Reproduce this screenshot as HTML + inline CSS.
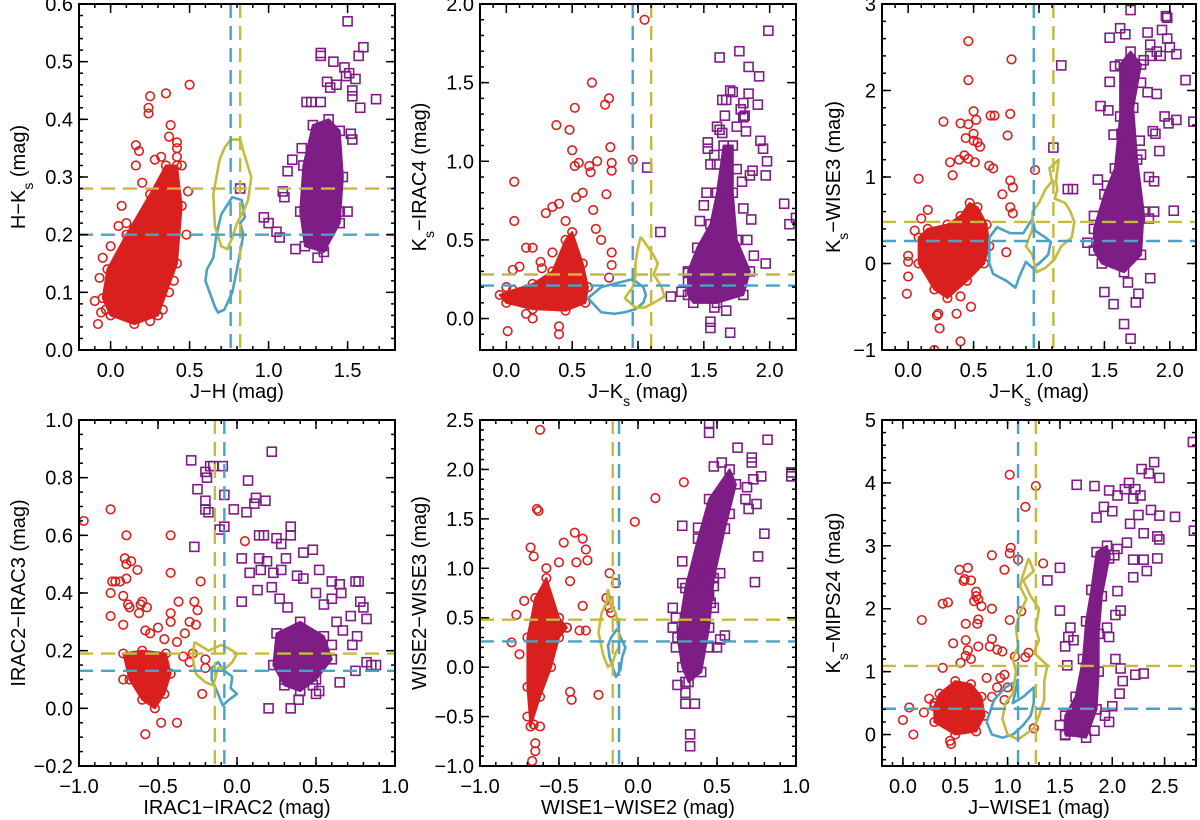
<!DOCTYPE html>
<html><head><meta charset="utf-8"><style>
html,body{margin:0;padding:0;background:#fff;}
svg{display:block;font-family:"Liberation Sans",sans-serif;}
</style></head><body>
<svg id="fig" width="1200" height="820" viewBox="0 0 1200 820" xmlns="http://www.w3.org/2000/svg"></svg>
<script>
// ---------- Panel 1 data ----------
const p1Red=[[0.5,0.46],[0.25,0.44],[0.24,0.42],[0.24,0.41],[0.35,0.445],[0.38,0.39],[0.37,0.37],[0.42,0.36],[0.42,0.35],[0.16,0.355],[0.18,0.345],[0.16,0.32],[0.28,0.33],[0.32,0.335],[0.42,0.335],[0.45,0.32],[0.2,0.29],[0.49,0.275],[0.07,0.25],[0.1,0.22],[0.05,0.215],[0.0,0.18],[-0.05,0.16],[-0.07,0.125],[-0.1,0.085],[-0.08,0.045],[-0.06,0.065],[0.04,0.08],[0.25,0.05],[0.48,0.2],[0.4,0.12],[0.37,0.1],[0.33,0.07],[-0.03,0.07],[0.02,0.11]];
const p1RedCore=[[0.0,0.06],[0.15,0.045],[0.3,0.06],[0.42,0.15],[0.45,0.25],[0.42,0.32],[0.35,0.32],[0.25,0.27],[0.1,0.2],[-0.02,0.14],[-0.05,0.09]];
const p1Pur=[[1.5,0.57],[1.6,0.525],[1.57,0.51],[1.33,0.51],[1.33,0.515],[1.41,0.5],[1.48,0.49],[1.51,0.48],[1.49,0.475],[1.55,0.47],[1.43,0.46],[1.37,0.465],[1.39,0.455],[1.53,0.45],[1.68,0.435],[1.58,0.42],[1.53,0.44],[1.24,0.43],[1.27,0.43],[1.33,0.43],[1.52,0.375],[1.53,0.365],[1.21,0.35],[1.15,0.33],[1.12,0.31],[1.09,0.275],[1.1,0.265],[0.97,0.23],[1.0,0.22],[1.05,0.205],[1.07,0.195],[1.17,0.175],[1.31,0.16],[1.34,0.18],[1.45,0.24],[1.5,0.24],[0.82,0.28]];
const p1PurCore=[[1.23,0.18],[1.35,0.17],[1.45,0.22],[1.47,0.3],[1.45,0.38],[1.38,0.4],[1.28,0.39],[1.22,0.32],[1.2,0.24]];
const p1Blue=[[0.7,0.235],[0.77,0.265],[0.83,0.26],[0.85,0.23],[0.82,0.22],[0.84,0.2],[0.82,0.17],[0.8,0.14],[0.77,0.1],[0.72,0.07],[0.68,0.065],[0.66,0.075],[0.6,0.12],[0.61,0.14],[0.65,0.16],[0.67,0.2],[0.7,0.235]];
const p1Yel=[[0.72,0.35],[0.76,0.365],[0.82,0.365],[0.84,0.345],[0.89,0.3],[0.87,0.26],[0.84,0.24],[0.8,0.22],[0.77,0.195],[0.74,0.175],[0.7,0.18],[0.66,0.215],[0.65,0.27],[0.67,0.3],[0.69,0.33],[0.72,0.35]];
const p1VLines=[0.76,0.82], p1HLines=[0.20,0.28];
// ---------- Panel 2 data ----------
const p2Red=[[1.05,1.9],[0.65,1.5],[0.78,1.4],[0.75,1.36],[0.52,1.34],[0.38,1.23],[0.48,1.2],[0.79,1.09],[0.5,1.07],[0.52,0.97],[0.55,0.99],[0.63,0.97],[0.69,1.0],[0.8,0.99],[0.8,0.94],[0.64,0.93],[0.96,1.01],[0.06,0.87],[0.06,0.62],[0.58,0.8],[0.53,0.77],[0.76,0.79],[0.35,0.71],[0.4,0.73],[0.3,0.67],[0.66,0.69],[0.68,0.57],[0.72,0.5],[0.8,0.42],[0.8,0.34],[0.78,0.26],[0.15,0.45],[0.2,0.45],[0.1,0.33],[0.05,0.31],[0.26,0.36],[0.01,-0.08],[0.2,0.0],[0.15,0.03],[0.4,-0.1],[0.4,-0.05],[0.27,0.32],[0.35,0.42],[0.45,0.62],[0.0,0.2]];
const p2RedCore=[[0.0,0.1],[0.2,0.06],[0.45,0.05],[0.6,0.1],[0.62,0.2],[0.58,0.35],[0.5,0.55],[0.45,0.5],[0.35,0.3],[0.2,0.22],[0.05,0.18],[-0.05,0.15]];
const p2Pur=[[1.99,1.83],[1.77,1.7],[1.62,1.66],[1.84,1.6],[1.92,1.54],[1.84,1.43],[1.7,1.45],[1.72,1.44],[1.67,1.39],[1.64,1.39],[1.8,1.37],[1.91,1.36],[1.78,1.33],[1.8,1.28],[1.81,1.29],[1.66,1.29],[1.75,1.22],[1.6,1.22],[1.62,1.2],[1.64,1.18],[1.82,1.19],[1.53,1.12],[1.53,1.08],[1.58,1.04],[1.93,1.13],[1.95,1.08],[1.98,1.0],[1.97,0.91],[1.87,0.94],[1.85,0.91],[1.75,0.95],[1.79,0.87],[1.55,0.98],[1.6,0.98],[1.07,0.96],[1.17,0.55],[1.25,0.14],[1.33,0.17],[1.38,0.24],[1.38,0.29],[1.47,0.62],[1.5,0.72],[1.52,0.8],[2.11,0.73],[2.15,0.6],[2.2,0.64],[1.97,0.35],[1.88,0.4],[1.83,0.5],[1.86,0.63],[1.8,0.7],[1.55,-0.02],[1.55,-0.06],[1.67,0.05],[1.7,-0.09],[1.58,0.07]];
const p2PurCore=[[1.42,0.1],[1.6,0.1],[1.8,0.15],[1.85,0.3],[1.75,0.5],[1.72,0.8],[1.72,1.1],[1.65,1.1],[1.6,0.8],[1.55,0.6],[1.45,0.45],[1.38,0.3],[1.38,0.15]];
const p2Blue=[[0.62,0.13],[0.72,0.2],[0.86,0.23],[0.96,0.25],[1.04,0.2],[1.06,0.15],[1.04,0.1],[0.98,0.06],[0.9,0.04],[0.82,0.03],[0.72,0.04],[0.62,0.13]];
const p2Yel=[[1.02,0.52],[1.08,0.45],[1.12,0.4],[1.15,0.35],[1.12,0.28],[1.18,0.2],[1.2,0.14],[1.12,0.1],[1.05,0.07],[0.98,0.07],[0.9,0.13],[0.96,0.2],[0.98,0.27],[0.98,0.35],[1.0,0.45],[1.02,0.52]];
const p2VLines=[0.96,1.10], p2HLines=[0.21,0.28];
// ---------- Panel 3 data ----------
const p3Red=[[0.46,2.57],[0.79,2.36],[0.46,2.12],[0.5,1.76],[0.52,1.66],[0.27,1.64],[0.4,1.62],[0.46,1.61],[0.63,1.71],[0.66,1.71],[0.78,1.73],[0.76,1.48],[0.44,1.45],[0.5,1.5],[0.5,1.42],[0.53,1.4],[0.55,1.35],[0.43,1.25],[0.46,1.21],[0.32,1.17],[0.39,1.2],[0.51,1.17],[0.62,1.13],[0.65,1.1],[0.97,1.08],[0.08,0.98],[0.34,1.02],[0.78,0.96],[0.8,0.88],[0.72,0.8],[0.78,0.65],[0.8,0.58],[0.15,0.62],[0.1,0.52],[0.05,0.38],[0.0,0.09],[0.0,0.02],[0.0,-0.15],[-0.01,-0.35],[0.22,-0.6],[0.23,-0.58],[0.24,-0.75],[0.37,-0.58],[0.4,-0.38],[0.48,-0.5],[0.2,-1.0],[0.4,-0.9],[0.75,0.13]];
const p3RedCore=[[0.08,0.0],[0.2,-0.3],[0.3,-0.4],[0.45,-0.2],[0.58,0.0],[0.62,0.2],[0.6,0.45],[0.53,0.65],[0.47,0.7],[0.4,0.55],[0.3,0.45],[0.15,0.4],[0.08,0.3]];
const p3Pur=[[1.7,2.93],[1.62,2.72],[1.66,2.65],[1.54,2.61],[1.83,2.67],[1.94,2.7],[1.98,2.84],[1.97,2.86],[1.85,2.53],[1.98,2.6],[2.0,2.5],[2.05,2.42],[1.9,2.45],[1.93,2.4],[1.85,2.4],[1.8,2.35],[1.58,2.28],[1.17,2.29],[2.12,2.12],[1.54,2.1],[1.66,2.09],[1.78,2.09],[1.83,1.98],[1.9,1.96],[1.47,1.82],[1.53,1.77],[1.68,1.75],[1.96,1.7],[2.05,1.66],[2.18,1.64],[1.99,1.62],[1.87,1.53],[1.89,1.5],[1.92,1.3],[1.57,1.49],[1.63,1.5],[1.77,1.42],[1.78,1.26],[1.72,1.05],[1.84,1.0],[1.88,0.95],[1.45,0.97],[1.52,0.9],[1.11,1.34],[1.22,0.86],[1.26,0.86],[1.37,0.24],[1.42,0.55],[1.84,0.52],[1.88,0.6],[2.03,0.61],[1.5,-0.33],[1.57,-0.47],[1.68,-0.22],[1.76,-0.35],[1.65,-0.7],[1.7,-0.87],[1.74,-0.45],[1.85,-0.17]];
const p3PurCore=[[1.48,0.0],[1.65,-0.1],[1.78,0.1],[1.8,0.6],[1.75,1.2],[1.72,1.8],[1.78,2.3],[1.7,2.45],[1.62,2.3],[1.62,1.7],[1.58,1.1],[1.5,0.8],[1.42,0.4],[1.42,0.15]];
const p3Blue=[[0.62,0.3],[0.68,0.42],[0.78,0.35],[0.88,0.35],[0.95,0.52],[0.97,0.38],[1.05,0.3],[1.09,0.25],[1.07,0.1],[1.0,0.0],[0.95,-0.05],[0.9,0.02],[0.85,-0.15],[0.82,-0.28],[0.75,-0.2],[0.65,-0.12],[0.62,0.0],[0.62,0.15],[0.62,0.3]];
const p3Yel=[[1.0,0.7],[1.05,0.86],[1.1,0.95],[1.08,1.1],[1.15,1.2],[1.13,0.95],[1.14,0.85],[1.12,0.75],[1.2,0.7],[1.24,0.6],[1.27,0.48],[1.25,0.3],[1.17,0.2],[1.12,0.05],[1.05,-0.05],[0.98,-0.1],[0.95,0.1],[0.9,0.2],[0.95,0.4],[0.95,0.6],[1.0,0.7]];
const p3VLines=[0.96,1.11], p3HLines=[0.26,0.48];
// ---------- Panel 4 data ----------
const p4Red=[[-0.97,0.65],[-0.8,0.69],[-0.7,0.6],[-0.42,0.6],[-0.71,0.52],[-0.7,0.5],[-0.67,0.51],[-0.63,0.48],[-0.42,0.47],[-0.79,0.44],[-0.77,0.44],[-0.74,0.44],[-0.7,0.45],[-0.8,0.4],[-0.72,0.39],[-0.69,0.36],[-0.68,0.35],[-0.61,0.36],[-0.6,0.37],[-0.57,0.35],[-0.37,0.37],[-0.27,0.37],[-0.23,0.44],[-0.8,0.32],[-0.72,0.29],[-0.62,0.33],[-0.58,0.27],[-0.5,0.28],[-0.42,0.33],[-0.42,0.3],[-0.3,0.3],[-0.26,0.29],[-0.25,0.34],[-0.33,0.26],[-0.38,0.23],[-0.46,0.24],[-0.55,0.26],[-0.2,0.14],[-0.22,0.05],[-0.2,0.17],[-0.28,0.19],[-0.3,0.16],[0.05,0.58],[-0.58,-0.09],[-0.48,-0.05],[-0.38,-0.05],[-0.72,0.1],[-0.34,0.18]];
const p4RedCore=[[-0.72,0.19],[-0.6,0.2],[-0.45,0.19],[-0.42,0.12],[-0.46,0.05],[-0.52,0.0],[-0.6,0.03],[-0.68,0.1]];
const p4Pur=[[0.22,0.89],[-0.29,0.86],[-0.17,0.84],[-0.2,0.82],[-0.19,0.8],[-0.15,0.84],[-0.09,0.84],[-0.25,0.76],[0.07,0.79],[-0.08,0.74],[0.12,0.73],[0.18,0.72],[-0.2,0.72],[0.11,0.71],[-0.2,0.69],[-0.18,0.68],[-0.02,0.69],[0.06,0.68],[-0.11,0.62],[-0.08,0.63],[-0.27,0.56],[0.14,0.6],[0.17,0.6],[0.25,0.59],[0.28,0.57],[0.34,0.6],[0.34,0.63],[0.48,0.55],[0.03,0.52],[0.14,0.52],[0.19,0.51],[0.08,0.47],[0.15,0.48],[0.23,0.47],[0.28,0.48],[0.31,0.52],[0.42,0.54],[0.38,0.46],[0.42,0.45],[0.52,0.48],[0.6,0.44],[0.65,0.43],[0.75,0.44],[0.77,0.44],[0.03,0.37],[0.13,0.41],[0.22,0.42],[0.27,0.38],[0.32,0.35],[0.5,0.4],[0.55,0.36],[0.6,0.38],[0.66,0.4],[0.78,0.37],[0.8,0.35],[0.82,0.31],[0.72,0.32],[0.63,0.3],[0.67,0.27],[0.76,0.25],[0.73,0.22],[0.6,0.22],[0.82,0.16],[0.88,0.15],[0.85,0.15],[0.75,0.13],[0.65,0.09],[0.5,0.05],[0.52,0.06],[0.39,0.03],[0.34,0.0],[0.2,0.0],[0.3,0.1],[0.48,0.08]];
const p4PurCore=[[0.25,0.26],[0.4,0.3],[0.55,0.25],[0.6,0.17],[0.5,0.1],[0.4,0.06],[0.3,0.08],[0.23,0.15]];
const p4Blue=[[-0.08,0.13],[-0.03,0.11],[-0.04,0.07],[0.0,0.05],[-0.05,0.03],[-0.09,0.01],[-0.12,0.05],[-0.16,0.1],[-0.16,0.14],[-0.12,0.16],[-0.08,0.13]];
const p4Yel=[[-0.27,0.23],[-0.18,0.2],[-0.1,0.22],[-0.06,0.21],[0.0,0.19],[-0.03,0.16],[-0.07,0.14],[-0.12,0.14],[-0.14,0.1],[-0.15,0.08],[-0.2,0.09],[-0.26,0.12],[-0.28,0.17],[-0.27,0.23]];
const p4VLines=[-0.14,-0.08], p4HLines=[0.19,0.13];
// ---------- Panel 5 data ----------
const p5Red=[[-0.62,2.4],[0.15,2.55],[0.55,2.55],[-0.64,1.6],[-0.63,1.58],[0.29,1.87],[0.11,1.71],[-0.02,1.47],[-0.4,1.36],[-0.35,1.3],[-0.47,1.26],[-0.68,1.21],[-0.33,1.19],[-0.66,1.12],[-0.5,1.06],[-0.39,1.06],[-0.32,1.08],[-0.58,1.0],[-0.18,0.95],[-0.14,0.85],[-0.43,0.87],[-0.72,0.67],[-0.2,0.7],[-0.35,0.62],[-0.77,0.53],[-0.37,0.37],[-0.33,0.37],[-0.45,0.4],[-0.8,0.25],[-0.75,0.13],[-0.25,-0.28],[-0.43,-0.25],[-0.42,-0.33],[-0.7,-0.5],[-0.66,-0.58],[-0.62,-0.6],[-0.65,-0.77],[-0.65,-0.85],[-0.67,-0.95],[-0.18,0.6],[-0.17,0.55]];
const p5RedCore=[[-0.68,-0.6],[-0.62,-0.3],[-0.55,0.0],[-0.5,0.3],[-0.45,0.4],[-0.5,0.5],[-0.58,0.9],[-0.65,0.7],[-0.7,0.3],[-0.7,-0.2]];
const p5Pur=[[0.45,2.47],[0.45,2.37],[0.82,2.3],[0.63,2.22],[0.72,2.12],[0.72,2.07],[0.53,2.07],[0.48,2.03],[0.97,1.97],[0.97,1.93],[0.78,1.93],[0.73,1.9],[0.69,1.82],[0.75,1.65],[0.68,1.7],[0.7,1.6],[0.58,1.55],[0.53,1.5],[0.49,1.45],[0.38,1.41],[0.28,1.43],[0.8,1.35],[0.76,1.12],[0.28,1.07],[0.45,0.98],[0.42,0.9],[0.52,0.95],[0.74,0.86],[0.28,0.85],[0.48,0.82],[0.45,0.72],[0.46,0.65],[0.48,0.6],[0.22,0.6],[0.24,0.5],[0.22,0.4],[0.3,0.5],[0.52,0.28],[0.55,0.32],[0.5,0.2],[0.45,0.2],[0.3,0.1],[0.3,-0.15],[0.25,-0.18],[0.3,-0.26],[0.3,-0.37],[0.36,-0.37],[0.33,-0.68],[0.33,-0.8],[0.24,0.2]];
const p5PurCore=[[0.28,0.0],[0.32,-0.15],[0.4,-0.05],[0.45,0.4],[0.48,0.9],[0.55,1.4],[0.62,1.85],[0.58,2.0],[0.45,1.7],[0.38,1.3],[0.3,0.8],[0.25,0.3]];
const p5Blue=[[-0.13,0.39],[-0.11,0.3],[-0.08,0.2],[-0.1,0.1],[-0.11,-0.02],[-0.14,-0.1],[-0.16,0.0],[-0.18,0.1],[-0.19,0.22],[-0.17,0.3],[-0.13,0.39]];
const p5Yel=[[-0.19,0.79],[-0.17,0.6],[-0.14,0.55],[-0.12,0.35],[-0.12,0.2],[-0.14,0.15],[-0.16,0.05],[-0.19,0.0],[-0.22,0.12],[-0.25,0.35],[-0.23,0.55],[-0.2,0.65],[-0.19,0.79]];
const p5VLines=[-0.16,-0.12], p5HLines=[0.48,0.26];
// ---------- Panel 6 data ----------
const p6Red=[[1.02,4.13],[1.27,3.95],[1.17,3.62],[1.03,2.97],[1.02,2.88],[0.85,2.85],[1.1,2.78],[0.97,2.62],[1.34,2.72],[0.62,2.65],[0.54,2.62],[0.58,2.44],[0.59,2.47],[0.65,2.45],[0.7,2.27],[0.7,2.2],[0.72,2.15],[0.68,2.12],[0.75,2.04],[0.43,2.1],[0.38,2.08],[0.85,2.0],[0.18,1.82],[0.72,1.83],[1.13,1.96],[1.02,1.82],[0.6,1.76],[0.71,1.76],[0.6,1.5],[0.48,1.45],[0.72,1.4],[0.85,1.52],[0.83,1.4],[0.9,1.35],[0.95,1.32],[0.62,1.34],[0.6,1.25],[1.07,1.24],[1.2,1.3],[1.17,1.23],[0.65,1.2],[0.55,1.14],[0.38,1.06],[0.8,0.9],[0.93,0.9],[0.97,0.95],[0.9,0.75],[1.0,0.75],[0.85,0.6],[0.97,0.55],[0.06,0.43],[0.0,0.23],[0.1,0.0],[0.45,-0.1],[0.46,-0.15],[1.25,0.1],[0.2,0.35],[0.3,0.5],[0.25,0.57]];
const p6RedCore=[[0.3,0.2],[0.5,0.0],[0.7,0.05],[0.78,0.3],[0.75,0.6],[0.65,0.8],[0.5,0.85],[0.35,0.65],[0.3,0.45]];
const p6Pur=[[2.77,4.65],[2.4,4.33],[2.28,4.22],[2.35,4.15],[2.45,4.08],[2.16,4.0],[2.12,3.9],[2.22,3.9],[1.66,3.97],[1.83,3.95],[1.97,3.88],[2.05,3.8],[2.27,3.8],[2.2,3.75],[2.6,3.46],[2.45,3.48],[2.37,3.57],[1.92,3.62],[2.0,3.55],[2.17,3.35],[2.25,3.49],[1.85,3.45],[2.78,3.24],[2.45,3.1],[2.43,3.15],[2.3,3.2],[2.14,3.05],[2.05,2.95],[2.02,2.85],[2.2,2.78],[2.3,2.78],[2.43,2.8],[2.33,2.6],[2.2,2.5],[2.05,2.28],[2.08,1.97],[2.03,1.9],[1.5,2.65],[1.38,2.45],[1.5,1.97],[1.6,1.7],[1.58,1.55],[1.55,1.4],[1.57,1.1],[1.63,1.5],[1.95,1.7],[1.97,1.55],[2.03,1.2],[2.08,1.05],[2.22,0.95],[2.3,0.97],[2.1,0.85],[2.07,0.65],[2.0,0.45],[1.93,0.3],[1.5,0.15],[1.55,-0.01],[1.6,0.05],[1.68,0.1],[1.97,0.2],[1.83,0.06]];
const p6PurCore=[[1.55,0.0],[1.75,-0.05],[1.85,0.4],[1.87,1.0],[1.87,1.6],[1.9,2.2],[1.97,2.8],[1.95,3.0],[1.85,2.9],[1.8,2.3],[1.75,1.8],[1.72,1.2],[1.65,0.6],[1.55,0.3]];
const p6Blue=[[0.8,0.2],[0.87,0.55],[0.98,0.75],[1.1,0.87],[1.05,0.5],[1.15,0.6],[1.25,0.75],[1.25,0.5],[1.22,0.3],[1.15,0.15],[1.05,0.0],[0.95,-0.05],[0.85,0.0],[0.8,0.2]];
const p6Yel=[[1.2,2.8],[1.25,2.6],[1.15,2.45],[1.22,2.2],[1.3,2.0],[1.27,1.7],[1.3,1.5],[1.25,1.3],[1.38,1.1],[1.35,0.85],[1.35,0.55],[1.3,0.3],[1.25,0.1],[1.1,-0.08],[1.0,0.0],[0.95,0.25],[0.98,0.5],[1.05,0.65],[1.08,1.0],[1.05,1.2],[1.1,1.4],[1.08,1.7],[1.12,1.95],[1.18,2.15],[1.12,2.35],[1.14,2.5],[1.2,2.8]];
const p6VLines=[1.10,1.27], p6HLines=[1.09,0.41];

const RED='#d9201f', PUR='#7d1d85', BLUE='#4aa2c4', YEL='#c4bb3e';
const NS='http://www.w3.org/2000/svg';
const svg=document.getElementById('fig');
function mk(tag,attrs,parent){const e=document.createElementNS(NS,tag);for(const k in attrs)e.setAttribute(k,attrs[k]);(parent||svg).appendChild(e);return e;}
function fmt(v,dec){let s=v.toFixed(dec);if(Math.abs(v)<1e-9)s=(0).toFixed(dec);return s.replace('-','\u2212');}

const panels=[
 {id:'p1',L:79,T:4,R:395,B:350,x0:-0.2,x1:1.8,y0:0,y1:0.6,xt:[0,0.5,1,1.5],xm:0.1,yt:[0,0.1,0.2,0.3,0.4,0.5,0.6],ym:0.02,xd:1,yd:1,
  xl:['J\u2212H (mag)'],yl:['H\u2212K','s',' (mag)'],red:p1Red,rc:p1RedCore,pur:p1Pur,pc:p1PurCore,blue:p1Blue,yel:p1Yel,v:p1VLines,h:p1HLines},
 {id:'p2',L:480,T:4,R:796,B:350,x0:-0.2,x1:2.2,y0:-0.2,y1:2.0,xt:[0,0.5,1,1.5,2],xm:0.1,yt:[0,0.5,1,1.5,2],ym:0.1,xd:1,yd:1,
  xl:['J\u2212K','s',' (mag)'],yl:['K','s','\u2212IRAC4 (mag)'],red:p2Red,rc:p2RedCore,pur:p2Pur,pc:p2PurCore,blue:p2Blue,yel:p2Yel,v:p2VLines,h:p2HLines},
 {id:'p3',L:882,T:4,R:1196,B:350,x0:-0.2,x1:2.2,y0:-1,y1:3,xt:[0,0.5,1,1.5,2],xm:0.1,yt:[-1,0,1,2,3],ym:0.2,xd:1,yd:0,
  xl:['J\u2212K','s',' (mag)'],yl:['K','s','\u2212WISE3 (mag)'],red:p3Red,rc:p3RedCore,pur:p3Pur,pc:p3PurCore,blue:p3Blue,yel:p3Yel,v:p3VLines,h:p3HLines},
 {id:'p4',L:79,T:420,R:395,B:766,x0:-1,x1:1,y0:-0.2,y1:1.0,xt:[-1,-0.5,0,0.5,1],xm:0.1,yt:[-0.2,0,0.2,0.4,0.6,0.8,1.0],ym:0.05,xd:1,yd:1,
  xl:['IRAC1\u2212IRAC2 (mag)'],yl:['IRAC2\u2212IRAC3 (mag)'],red:p4Red,rc:p4RedCore,pur:p4Pur,pc:p4PurCore,blue:p4Blue,yel:p4Yel,v:p4VLines,h:p4HLines},
 {id:'p5',L:480,T:420,R:796,B:766,x0:-1,x1:1,y0:-1,y1:2.5,xt:[-1,-0.5,0,0.5,1],xm:0.1,yt:[-1,-0.5,0,0.5,1,1.5,2,2.5],ym:0.1,xd:1,yd:1,
  xl:['WISE1\u2212WISE2 (mag)'],yl:['WISE2\u2212WISE3 (mag)'],red:p5Red,rc:p5RedCore,pur:p5Pur,pc:p5PurCore,blue:p5Blue,yel:p5Yel,v:p5VLines,h:p5HLines},
 {id:'p6',L:882,T:420,R:1196,B:766,x0:-0.2,x1:2.8,y0:-0.5,y1:5,xt:[0,0.5,1,1.5,2,2.5],xm:0.1,yt:[0,1,2,3,4,5],ym:0.2,xd:1,yd:0,
  xl:['J\u2212WISE1 (mag)'],yl:['K','s','\u2212MIPS24 (mag)'],red:p6Red,rc:p6RedCore,pur:p6Pur,pc:p6PurCore,blue:p6Blue,yel:p6Yel,v:p6VLines,h:p6HLines}
];

function title(g,parts,attrs){
  const t=mk('text',attrs,g);
  parts.forEach((p,i)=>{const s=mk('tspan',{},t);s.textContent=p;
    if(parts.length===3&&i===1){s.setAttribute('baseline-shift','sub');s.setAttribute('font-size','14');}});
  return t;
}

panels.forEach(P=>{
  const g=mk('g',{});
  
  
  const sx=v=>P.L+(v-P.x0)/(P.x1-P.x0)*(P.R-P.L);
  const sy=v=>P.B-(v-P.y0)/(P.y1-P.y0)*(P.B-P.T);
  const clipId='clip-'+P.id;
  const cp=mk('clipPath',{id:clipId},g);mk('rect',{x:P.L,y:P.T,width:P.R-P.L,height:P.B-P.T},cp);
  const data=mk('g',{'clip-path':'url(#'+clipId+')'},g);
  [[P.rc,RED,'red-dense-core'],[P.pc,PUR,'purple-dense-core']].forEach(([poly,c,n])=>{
    const pg=mk('polygon',{points:poly.map(p=>sx(p[0])+','+sy(p[1])).join(' '),fill:c,stroke:c,'stroke-width':2,'stroke-linejoin':'round'},data);
    
    
  });
  P.red.forEach(p=>{
    const c=mk('circle',{cx:sx(p[0]),cy:sy(p[1]),r:4.3,fill:'none',stroke:RED,'stroke-width':1.6},data);
    
    
  });
  P.rc.forEach(p=>{mk('circle',{cx:sx(p[0]),cy:sy(p[1]),r:4.3,fill:'none',stroke:RED,'stroke-width':1.6},data);});
  P.pur.forEach(p=>{
    const r=mk('rect',{x:sx(p[0])-4.5,y:sy(p[1])-4.5,width:9,height:9,fill:'none',stroke:PUR,'stroke-width':1.6},data);
    
    
  });
  P.pc.forEach(p=>{mk('rect',{x:sx(p[0])-4.5,y:sy(p[1])-4.5,width:9,height:9,fill:'none',stroke:PUR,'stroke-width':1.6},data);});
  [[P.blue,BLUE,'blue-contour'],[P.yel,YEL,'yellow-contour']].forEach(([poly,c,n])=>{
    const pl=mk('polyline',{points:poly.map(p=>sx(p[0])+','+sy(p[1])).join(' '),fill:'none',stroke:c,'stroke-width':2.6,'stroke-linejoin':'round'},data);
    
    
  });
  const vCol=(P.id==='p4'||P.id==='p5')?[YEL,BLUE]:[BLUE,YEL];
  const hCol=(P.id==='p4'||P.id==='p5'||P.id==='p6')?[YEL,BLUE]:[BLUE,YEL];
  P.v.forEach((v,i)=>{
    const l=mk('line',{x1:sx(v),x2:sx(v),y1:P.T,y2:P.B,stroke:vCol[i],'stroke-width':2.4,'stroke-dasharray':'14,8'},data);
    
    
  });
  P.h.forEach((v,i)=>{
    const l=mk('line',{x1:P.L,x2:P.R,y1:sy(v),y2:sy(v),stroke:hCol[i],'stroke-width':2.4,'stroke-dasharray':'14,8'},data);
    
    
  });
  const fr=mk('rect',{x:P.L,y:P.T,width:P.R-P.L,height:P.B-P.T,fill:'none',stroke:'#000','stroke-width':2},g);
  
  
  const tk=mk('g',{stroke:'#000','stroke-width':1.5},g);
  for(let v=Math.ceil(P.x0/P.xm-1e-6)*P.xm;v<=P.x1+1e-9;v+=P.xm){const X=sx(v);mk('line',{x1:X,x2:X,y1:P.B,y2:P.B-4},tk);mk('line',{x1:X,x2:X,y1:P.T,y2:P.T+4},tk);}
  for(let v=Math.ceil(P.y0/P.ym-1e-6)*P.ym;v<=P.y1+1e-9;v+=P.ym){const Y=sy(v);mk('line',{x1:P.L,x2:P.L+4,y1:Y,y2:Y},tk);mk('line',{x1:P.R,x2:P.R-4,y1:Y,y2:Y},tk);}
  P.xt.forEach(v=>{const X=sx(v);mk('line',{x1:X,x2:X,y1:P.B,y2:P.B-9},tk);mk('line',{x1:X,x2:X,y1:P.T,y2:P.T+9},tk);
    const t=mk('text',{x:X,y:P.B+27,'text-anchor':'middle','font-size':20,fill:'#000'},g);t.textContent=fmt(v,P.xd);
    
    });
  P.yt.forEach(v=>{const Y=sy(v);mk('line',{x1:P.L,x2:P.L+9,y1:Y,y2:Y},tk);mk('line',{x1:P.R,x2:P.R-9,y1:Y,y2:Y},tk);
    const t=mk('text',{x:P.L-6,y:Y+7,'text-anchor':'end','font-size':20,fill:'#000'},g);t.textContent=fmt(v,P.yd);
    
    });
  const xt=title(g,P.xl,{x:(P.L+P.R)/2,y:P.B+48,'text-anchor':'middle','font-size':20,fill:'#000'});
  
  
  const yx=P.L-(P.id==='p3'||P.id==='p6'?42:54), yc=(P.T+P.B)/2;
  const yt=title(g,P.yl,{x:yx,y:yc,'text-anchor':'middle','font-size':20,fill:'#000',transform:'rotate(-90 '+yx+' '+yc+')'});
  
  
});
</script>
</body></html>
